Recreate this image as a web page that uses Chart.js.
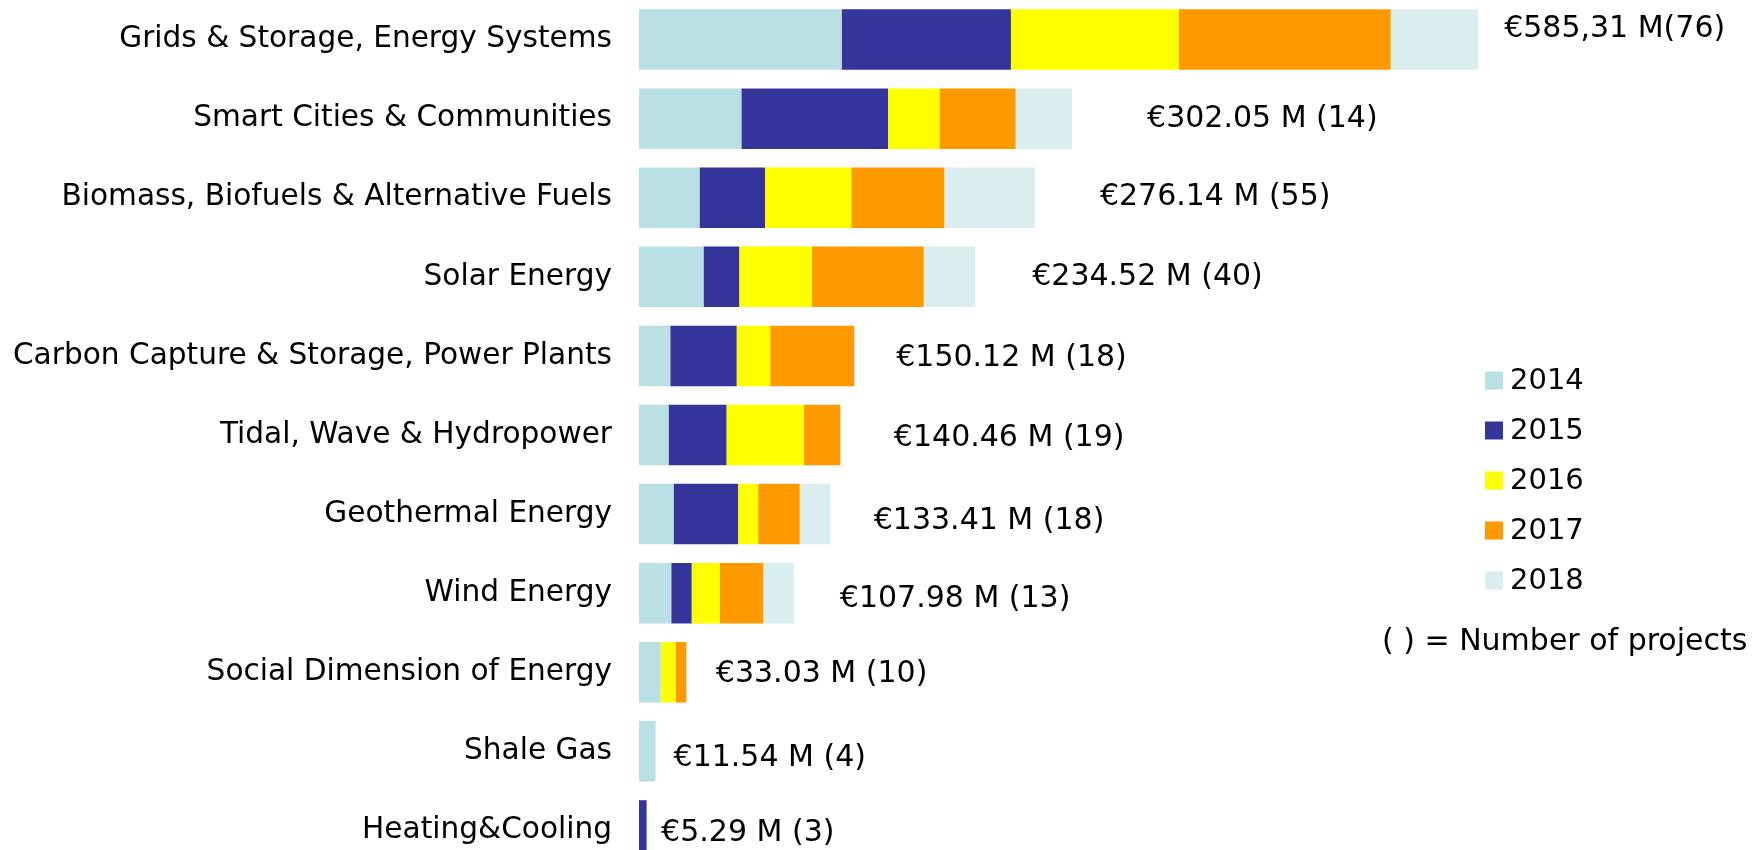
<!DOCTYPE html>
<html><head><meta charset="utf-8">
<script src="https://cdn.jsdelivr.net/npm/chart.js@4.4.1/dist/chart.umd.min.js"></script>
<style>html,body{margin:0;padding:0;background:#fff;overflow:hidden;}</style>
</head><body><canvas id="c" width="1763" height="870"></canvas>
<script>
const categories = ['Grids & Storage, Energy Systems','Smart Cities & Communities','Biomass, Biofuels & Alternative Fuels','Solar Energy','Carbon Capture & Storage, Power Plants','Tidal, Wave & Hydropower','Geothermal Energy','Wind Energy','Social Dimension of Energy','Shale Gas','Heating&Cooling'];
const years = ['2014','2015','2016','2017','2018'];
const v2014 = [141.3, 71.4, 42.2, 45.0, 21.8, 20.6, 24.1, 22.5, 15.2, 11.54, 0];
const v2015 = [118.1, 102.3, 45.7, 24.9, 46.3, 40.4, 45.0, 14.2, 0, 0, 5.29];
const v2016 = [117.0, 35.8, 60.2, 50.6, 23.4, 53.9, 14.0, 19.8, 10.3, 0, 0];
const v2017 = [147.9, 53.2, 64.8, 78.1, 58.62, 25.56, 29.0, 30.2, 7.53, 0, 0];
const v2018 = [61.01, 39.35, 63.24, 35.92, 0, 0, 21.31, 21.28, 0, 0, 0];
const totals = [585.31, 302.05, 276.14, 234.52, 150.12, 140.46, 133.41, 107.98, 33.03, 11.54, 5.29];
const valueLabels = ['€585,31 M(76)','€302.05 M (14)','€276.14 M (55)','€234.52 M (40)','€150.12 M (18)','€140.46 M (19)','€133.41 M (18)','€107.98 M (13)','€33.03 M (10)','€11.54 M (4)','€5.29 M (3)'];
const noteText = '( ) = Number of projects';

// styling / placement (not data)
const colors = ['#B9E0E3','#35349A','#FFFF00','#FF9900','#DAEDEF'];
const labelGap = [26, 75, 65, 57, 42, 53.5, 43.5, 46, 29.5, 18, 14.5];
const labelDy = [-10.5, 1, -1, 0, 2, 3, 7, 6.5, 2, 6.5, 3];
const FONT = '"DejaVu Sans", Verdana, sans-serif';

const seriesValues = [v2014, v2015, v2016, v2017, v2018];

const labelsPlugin = {
  id: 'valueLabels',
  afterDatasetsDraw(chart) {
    const ctx = chart.ctx, xs = chart.scales.x, ys = chart.scales.y;
    ctx.save();
    ctx.fillStyle = '#000';
    ctx.font = '30px ' + FONT;
    ctx.textBaseline = 'middle';
    ctx.textAlign = 'left';
    totals.forEach((t, i) => {
      ctx.fillText(valueLabels[i], xs.getPixelForValue(t) + labelGap[i], ys.getPixelForValue(i) + labelDy[i]);
    });
    ctx.fillText(noteText, 1382, 642);
    // legend
    ctx.font = '29px ' + FONT;
    const lx = 1485, ly0 = 380.5, step = 50, sz = 18;
    chart.data.datasets.forEach((ds, k) => {
      const cy = ly0 + k * step;
      ctx.fillStyle = ds.backgroundColor;
      ctx.fillRect(lx, cy - sz / 2, sz, sz);
      ctx.fillStyle = '#000';
      ctx.fillText(ds.label, lx + 25, cy + 1);
    });
    ctx.restore();
  }
};

new Chart(document.getElementById('c'), {
  type: 'bar',
  data: {
    labels: categories,
    datasets: seriesValues.map((vals, k) => ({
      label: years[k],
      data: vals,
      backgroundColor: colors[k],
      borderWidth: 0,
      barPercentage: 0.765,
      categoryPercentage: 1
    }))
  },
  options: {
    indexAxis: 'y',
    responsive: false,
    animation: false,
    devicePixelRatio: 1,
    layout: { padding: 0 },
    plugins: { legend: { display: false }, tooltip: { enabled: false } },
    scales: {
      x: { stacked: true, display: false, min: 0, max: 784 },
      y: {
        stacked: true,
        grid: { display: false, drawTicks: false },
        border: { display: false },
        afterFit(scale) { scale.width = 639; scale.paddingTop = 0; scale.paddingBottom = 0; },
        ticks: { color: '#000', padding: 27, font: { family: FONT, size: 29.6 } }
      }
    }
  },
  plugins: [labelsPlugin]
});
</script>
</body></html>
